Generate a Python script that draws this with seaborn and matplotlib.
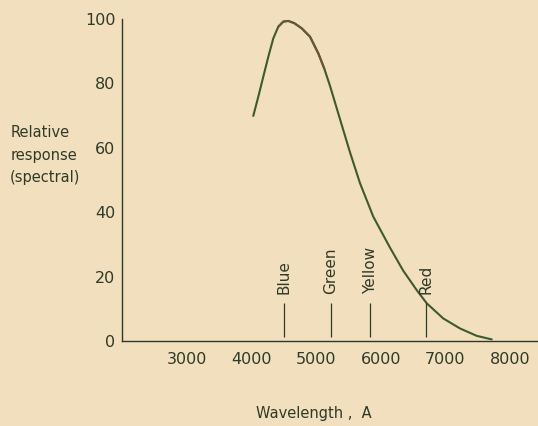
import matplotlib
matplotlib.use("Agg")
import matplotlib.pyplot as plt
import seaborn as sns
import pandas as pd

# Spectral response curve (wavelength in angstroms, relative response in %)
wavelength = [4026, 4104, 4181, 4259, 4336, 4413, 4491, 4568, 4661, 4776, 4904,
              5033, 5125, 5214, 5368, 5523, 5678, 5884, 6142, 6348, 6556,
              6711, 6967, 7226, 7485, 7717]
response = [69.9, 75.9, 82.1, 88.3, 94.0, 97.6, 99.2, 99.4, 98.7, 97.1, 94.5,
            89.3, 84.6, 79.2, 68.9, 58.6, 49.0, 38.6, 29.0, 21.8, 15.8,
            11.7, 7.0, 3.9, 1.6, 0.5]

# Colour reference markers
colour_names = ["Blue", "Green", "Yellow", "Red"]
colour_wavelengths = [4500, 5230, 5840, 6700]
marker_bottom = 1.2
marker_top = 11.8
label_base = 14.6

x_ticks = [3000, 4000, 5000, 6000, 7000, 8000]
y_ticks = [0, 20, 40, 60, 80, 100]

bg = "#f2dfbe"
ink = "#2f3a27"
curve_col = "#3d5a2c"
peak_col = "#6b553a"

sns.set_theme(style="white", rc={"axes.facecolor": bg, "figure.facecolor": bg})
plt.rcParams["font.family"] = ["DejaVu Sans"]

fig = plt.figure(figsize=(5.38, 4.26), dpi=100)
ax = fig.add_axes([0.2275, 0.1995, 0.7725, 0.7559])

df = pd.DataFrame({"wavelength": wavelength, "response": response})
sns.lineplot(data=df, x="wavelength", y="response", ax=ax, color=curve_col,
             linewidth=1.5, sort=False, estimator=None)
# the ink over the crest of the curve is browner
crest = df[(df["wavelength"] >= 4413) & (df["wavelength"] <= 5125)]
sns.lineplot(data=crest, x="wavelength", y="response", ax=ax, color=peak_col,
             linewidth=1.5, sort=False, estimator=None)
for line in ax.lines:
    line.set_clip_on(False)
    line.set_solid_capstyle("round")
    line.set_solid_joinstyle("round")

ax.vlines(colour_wavelengths, marker_bottom, marker_top, color=ink, linewidth=0.9)
for name, wl in zip(colour_names, colour_wavelengths):
    ax.text(wl, label_base, name, rotation=90, ha="center", va="bottom",
            fontsize=11, color=ink)

ax.set_xlim(2000, 8433)
ax.set_ylim(0, 100)
ax.set_xticks(x_ticks)
ax.set_yticks(y_ticks)
ax.set_xticklabels([str(t) for t in x_ticks])
ax.set_yticklabels([str(t) for t in y_ticks])
ax.tick_params(axis="both", labelsize=11.5, colors=ink, length=3, width=0.8,
               direction="out", pad=2)
ax.tick_params(axis="x", pad=5)
ax.set_xlabel("")
ax.set_ylabel("")

for side in ["top", "right"]:
    ax.spines[side].set_visible(False)
for side in ["left", "bottom"]:
    ax.spines[side].set_color(ink)
    ax.spines[side].set_linewidth(1.0)

fig.text(0.019, 0.636, "Relative\nresponse\n(spectral)", ha="left", va="center",
         fontsize=10.5, color=ink, linespacing=1.6)
fig.text(0.584, 0.012, "Wavelength ,  A", ha="center", va="bottom",
         fontsize=10.5, color=ink)

fig.savefig("out.png", dpi=100, facecolor=bg)
